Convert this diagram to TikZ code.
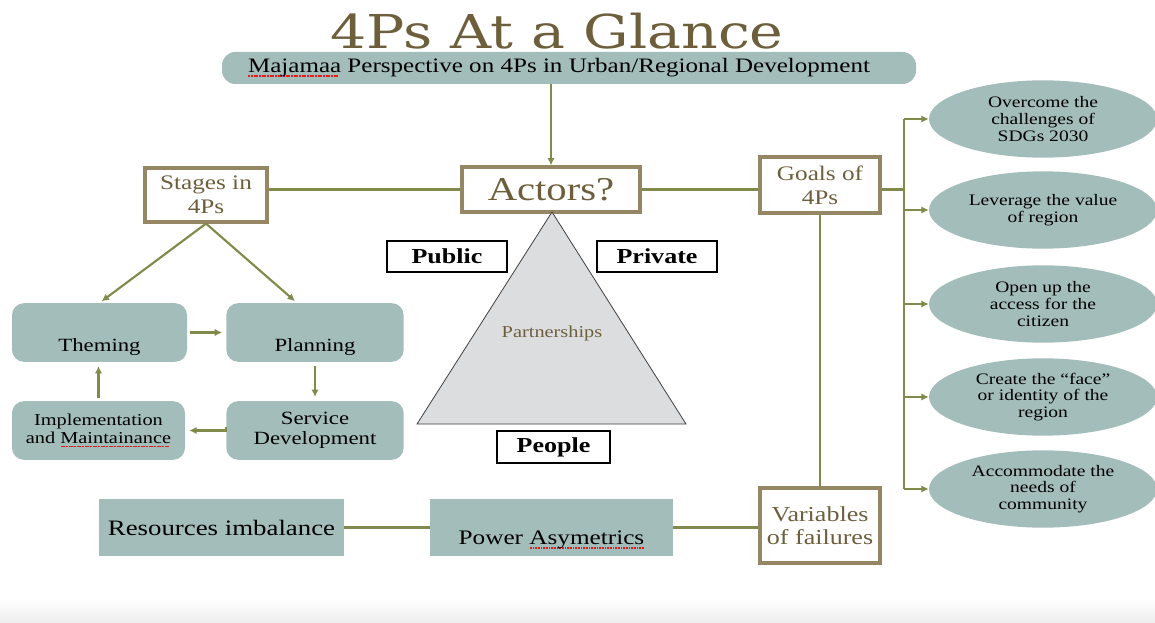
\documentclass[tikz,border=0pt]{standalone}
\usepackage{fontspec}
\setmainfont[FakeStretch=1.22]{Liberation Serif}
\newfontfamily\titlefont[FakeStretch=1.22]{DejaVu Serif}
\usetikzlibrary{arrows.meta,calc,shapes.geometric}

\definecolor{paneteal}{RGB}{163,189,187}
\definecolor{linkgreen}{RGB}{128,138,74}
\definecolor{labelbrown}{RGB}{110,95,60}
\definecolor{framebrown}{RGB}{150,135,100}
\definecolor{trigray}{RGB}{220,221,223}
\definecolor{markred}{RGB}{235,25,25}

% red dotted mark under a word
\newcommand\spellmark[1]{\sbox0{#1}\makebox[0pt][l]{\raisebox{-2.8pt}{\leaders\hbox to 2pt{\hss\textcolor{markred}{\rule{1.35pt}{1.35pt}}\hss}\hskip\wd0}}#1}
% text sitting low in its box
\newcommand\lowtext[2]{\raisebox{-#1}[0pt][0pt]{#2}}

\begin{document}
\begin{tikzpicture}[x=0.75pt, y=-0.75pt,
  pane/.style={fill=paneteal, rounded corners=9pt, minimum width=133pt, minimum height=44pt, inner sep=1pt, align=center, font=\fontsize{14}{15}\selectfont},
  flat/.style={fill=paneteal, minimum width=183pt, minimum height=43pt, inner sep=1pt},
  tag/.style={draw=framebrown, line width=2.4pt, fill=white, text=labelbrown, inner sep=2pt, align=center, font=\fontsize{15.5}{18}\selectfont},
  side/.style={draw=black, fill=white, line width=0.9pt, minimum width=90pt, minimum height=23.25pt, inner sep=1pt, font=\bfseries\fontsize{16}{18}\selectfont},
  goal/.style={ellipse, fill=paneteal, minimum width=171pt, minimum height=58pt, inner sep=0pt, align=center, font=\fontsize{12}{12.5}\selectfont},
  link/.style={draw=linkgreen, line width=1.6pt},
  flow/.style={link, -{Latex[length=5.5pt,width=5.5pt]}}]

  \useasboundingbox (0,0) rectangle (1155,623);
  \shade[top color=white, bottom color=black!7] (0,598) rectangle (1155,623);

  % Heading
  \node[text=labelbrown, font=\titlefont\fontsize{35}{35}\selectfont] (title) at (557,31) {4Ps At a Glance};
  \node[fill=paneteal, rounded corners=10pt, minimum width=520.5pt, minimum height=24pt, inner sep=1pt, font=\fontsize{15.4}{17}\selectfont] (persp) at (569,68) {\spellmark{Majamaa} Perspective on 4Ps in Urban/Regional Development\hspace*{15pt}};

  % Middle row
  \node[tag, minimum width=91.5pt, minimum height=40.5pt] (stages) at (206,195) {Stages in\\4Ps};
  \node[tag, minimum width=133.5pt, minimum height=33.75pt, font=\fontsize{25}{25}\selectfont] (actors) at (551,189.5) {Actors?};
  \node[tag, minimum width=90pt, minimum height=42pt] (goals) at (820,185) {Goals of\\4Ps};

  % Triangle of actors
  \coordinate (apex) at (552,212);
  \coordinate (baseR) at (686,424);
  \coordinate (baseL) at (417,424);
  \draw[draw=black!75, fill=trigray, line width=0.6pt] (apex) -- (baseR) -- (baseL) -- cycle;
  \node[text=labelbrown, font=\fontsize{12.5}{14}\selectfont] (partner) at (552,333) {Partnerships};
  \node[side] (public) at (447,256.5) {Public};
  \node[side] (private) at (657,256.5) {Private};
  \node[side, minimum width=84.75pt, minimum height=24pt] (people) at (553.5,447) {People};

  % Stages cycle
  \node[pane, minimum width=131.25pt] (theming) at (99.5,332.5) {\lowtext{14pt}{Theming}};
  \node[pane] (planning) at (315,332.5) {\lowtext{14pt}{Planning}};
  \node[pane] (service) at (315,430.5) {Service\\Development};
  \node[pane, minimum width=129.75pt, font=\fontsize{12.5}{14}\selectfont] (impl) at (98.5,430.5) {Implementation\\and \spellmark{Maintainance}};

  % Failures row
  \node[flat, minimum width=183.75pt, font=\fontsize{16.5}{18}\selectfont] (resources) at (221.5,527.5) {Resources imbalance};
  \node[flat, minimum width=182.25pt, minimum height=42.75pt, font=\fontsize{15.5}{17}\selectfont] (power) at (551.5,527.5) {\lowtext{13pt}{Power \spellmark{Asymetrics}}};
  \node[tag, minimum width=90pt, minimum height=56.25pt, font=\fontsize{16}{17.5}\selectfont] (fail) at (820,525.5) {Variables\\of failures};

  % Goals
  \node[goal] (g1) at (1043,119) {Overcome the\\challenges of\\SDGs 2030};
  \node[goal] (g2) at (1043,210) {Leverage the value\\of region};
  \node[goal] (g3) at (1043,304) {Open up the\\access for the\\citizen};
  \node[goal] (g4) at (1043,397) {Create the ``face''\\or identity of the\\region};
  \node[goal] (g5) at (1043,489) {Accommodate the\\needs of\\community};
  \coordinate (trunk) at (904,0);

  % Connectors
  \draw[flow] (persp.south -| actors.north) -- (actors.north);
  \draw[link] (stages.east |- actors.west) -- (actors.west);
  \draw[link] (actors.east) -- (goals.west |- actors.east);
  \draw[link] (goals.east |- actors.east) -- (trunk |- actors.east);
  \draw[link] (trunk |- g1.west) -- (trunk |- g5.west);
  \foreach \g in {g1,g2,g3,g4,g5}
    \draw[flow] (trunk |- \g.west) -- (\g.west);
  \draw[link] (goals.south) -- (fail.north);
  \draw[link] (power.east) -- (power.east -| fail.west);
  \draw[link] (resources.east) -- (power.west);

  % Arrows of the cycle
  \draw[flow, shorten >=2pt] (stages.south) -- (theming.north);
  \draw[flow, shorten >=2pt] (stages.south) -- ($(planning.north)+(-18,0)$);
  \draw[flow, shorten <=2pt, shorten >=3pt] (theming.east) -- (planning.west);
  \draw[flow, shorten <=3pt, shorten >=3pt] (planning.south) -- (service.north);
  \draw[flow, shorten <=3pt, shorten >=3pt] (service.west) -- (impl.east -| service.west) -- (impl.east);
  \draw[flow, shorten <=2pt, shorten >=3pt] (impl.north) -- (impl.north |- theming.south);

\end{tikzpicture}
\end{document}
